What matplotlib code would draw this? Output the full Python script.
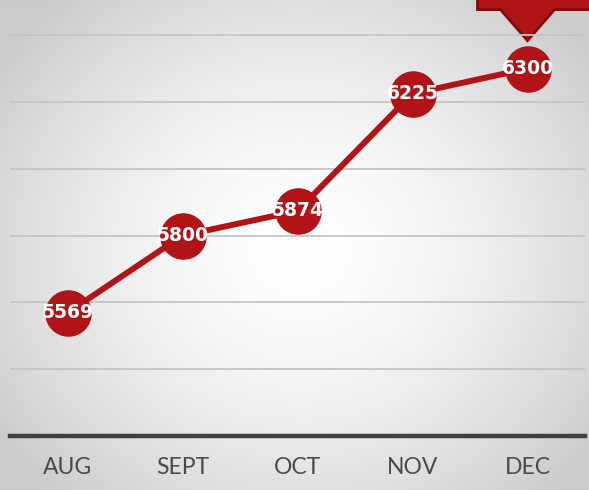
import numpy as np
import matplotlib
matplotlib.use("Agg")
import matplotlib.pyplot as plt
from matplotlib.patches import Polygon

months = ["AUG", "SEPT", "OCT", "NOV", "DEC"]
values = [5569, 5800, 5874, 6225, 6300]
grid_values = [5400, 5600, 5800, 6000, 6200, 6400]

RED = "#b01416"
DARK_RED = "#7e0c0c"

W, H = 589, 490
fig = plt.figure(figsize=(W / 100, H / 100), dpi=100)

# background radial gradient
bg = fig.add_axes([0, 0, 1, 1])
yy, xx = np.mgrid[0:H, 0:W]
cx, cy = 300, 250
r = np.sqrt(((xx - cx) / 330.0) ** 2 + ((yy - cy) / 300.0) ** 2)
g = np.clip(1.0 - 0.17 * r ** 1.6, 0.80, 1.0)
img = np.dstack([g, g, g])
bg.imshow(img, extent=[0, W, H, 0], aspect="auto", zorder=0)
bg.set_xlim(0, W)
bg.set_ylim(H, 0)
bg.axis("off")

ax = fig.add_axes([10 / W, (H - 436) / H, 575 / W, 436 / H])
ax.patch.set_alpha(0)
x = np.arange(len(months))
ax.set_xlim(-0.5, len(months) - 0.5)
ax.set_ylim(5200, 5200 + 436 / 66.8 * 200)

for gv in grid_values:
    ax.axhline(gv, color="#c4c4c4", lw=1.3, zorder=1)
ax.axhline(5200, color="#404040", lw=3.2, zorder=2, clip_on=False)

ax.plot(x, values, color=RED, lw=4.3, zorder=3, solid_capstyle="round")
ax.plot(x, values, "o", ms=32.5, color=RED, mec=RED, zorder=4, clip_on=False)
for xi, v in zip(x, values):
    ax.text(xi, v, str(v), color="white", fontsize=13.5, fontweight="bold",
            family="DejaVu Sans", ha="center", va="center", zorder=5)

ax.set_xticks(x)
ax.set_xticklabels(months, fontsize=16.5, color="#4a4a4a",
                   family=["Lato", "DejaVu Sans"], fontweight="normal")
ax.tick_params(axis="x", length=0, pad=15)
ax.set_yticks([])
for s in ax.spines.values():
    s.set_visible(False)

# callout above the last point
fig.canvas.draw()
px, py = ax.transData.transform((x[-1], values[-1]))
px_img, py_img = px, H - py
tip_y = py_img - 28
box_bottom = tip_y - 31
callout = Polygon([
    (px_img - 50, -5), (px_img + 80, -5), (px_img + 80, box_bottom),
    (px_img + 27, box_bottom), (px_img, tip_y), (px_img - 27, box_bottom),
    (px_img - 50, box_bottom)],
    closed=True, facecolor=RED, edgecolor=DARK_RED, lw=2.0, zorder=6,
    joinstyle="miter")
bg.add_patch(callout)

fig.savefig("out.png", dpi=100)
